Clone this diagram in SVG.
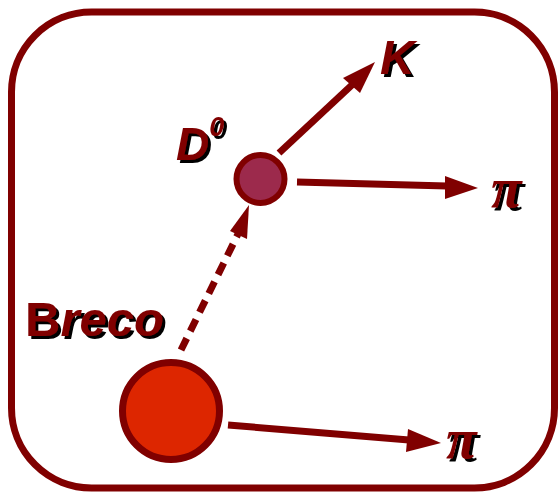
<svg xmlns="http://www.w3.org/2000/svg" width="558" height="493" viewBox="0 0 558 493">
<defs>
<filter id="shadow" x="-20%" y="-20%" width="150%" height="150%">
<feOffset in="SourceAlpha" dx="3" dy="3" result="off"/>
<feFlood flood-color="#000"/>
<feComposite in2="off" operator="in" result="sh"/>
<feMerge><feMergeNode in="sh"/><feMergeNode in="SourceGraphic"/></feMerge>
</filter>
</defs>
<style>
.lbl{font-family:"Liberation Sans",Arial,sans-serif;font-weight:bold;font-style:italic;fill:#800000;filter:url(#shadow)}
.pi{font-family:"Liberation Serif","Times New Roman",serif;font-weight:bold;font-style:italic;font-size:56px;fill:#800000;filter:url(#shadow)}
.ln{stroke:#800000;stroke-width:7;fill:none}
.ah{fill:#800000}
</style>
<rect x="11.5" y="12" width="543" height="476" rx="80" ry="80" fill="#fff" stroke="#800000" stroke-width="7"/>
<g id="connectors">
<line class="ln" x1="279" y1="153" x2="353" y2="84"/>
<polygon class="ah" points="375,62 343,78 360,93"/>
<line class="ln" x1="297" y1="182" x2="447" y2="186"/>
<polygon class="ah" points="478,188 445,176 445,199"/>
<line class="ln" x1="228" y1="425" x2="409" y2="440"/>
<polygon class="ah" points="441,443 408,429 406,452"/>
<line class="ln" x1="181" y1="350" x2="238" y2="234" stroke-dasharray="13,8"/>
<polygon class="ah" points="249,205 230,231 247,239"/>
</g>
<g id="D0">
<circle cx="260.5" cy="179" r="24" fill="#9c2a4c" stroke="#800000" stroke-width="6"/>
<text class="lbl" x="176" y="160" font-size="46">D<tspan font-size="27" dx="0" dy="-24">0</tspan></text>
</g>
<g id="Breco">
<circle cx="171" cy="411" r="48.5" fill="#dd2600" stroke="#800000" stroke-width="7"/>
<text class="lbl" x="25" y="336" font-size="49"><tspan font-style="normal">B</tspan>reco</text>
</g>
<g id="K">
<text class="lbl" x="380" y="74" font-size="48">K</text>
</g>
<g id="pi1">
<text class="pi" x="491" y="207">π</text>
</g>
<g id="pi2">
<text class="pi" x="446" y="458">π</text>
</g>
</svg>
